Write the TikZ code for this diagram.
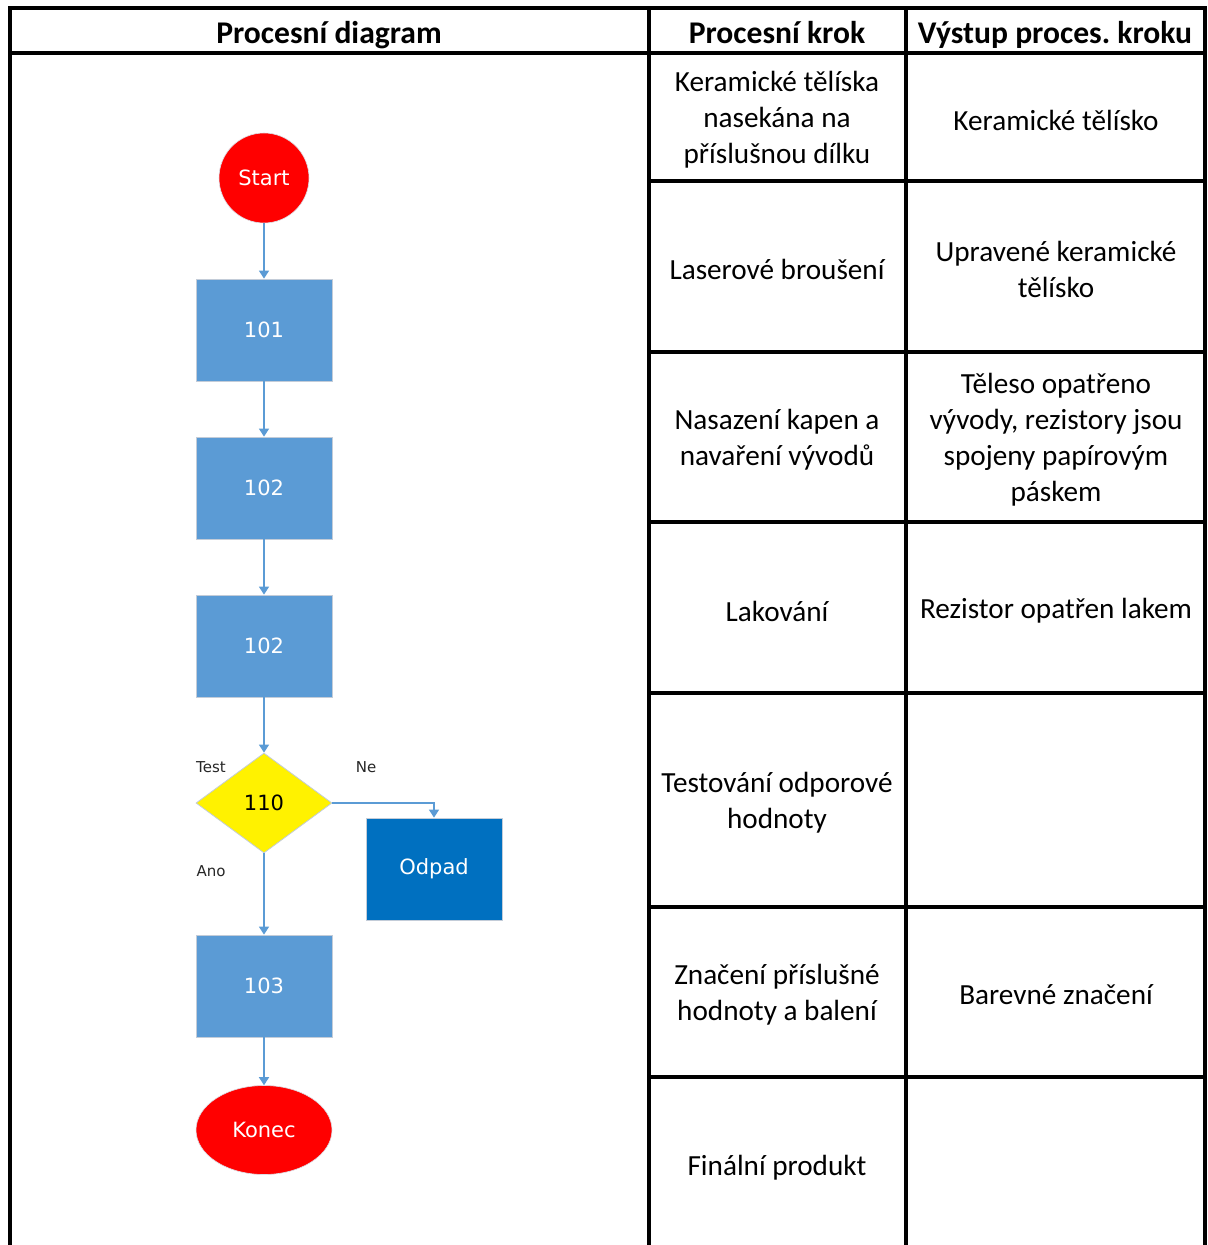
\documentclass[tikz,border=0pt]{standalone}
\usepackage{fontspec}
\setmainfont{Carlito}
\newfontfamily\chartfont{DejaVu Sans}
\usepackage{xcolor}
\usetikzlibrary{positioning,arrows.meta,shapes.geometric}
\definecolor{stepblue}{HTML}{5B9BD5}
\definecolor{wasteblue}{HTML}{0070C0}
\definecolor{rimgray}{HTML}{C3CCD8}
\frenchspacing

\begin{document}
\begin{tikzpicture}
            [
            x=0.5pt, y=-0.5pt,
            grid/.style={line width=1.6pt, line cap=rect},
            head/.style={anchor=base, font=\fontsize{15.8}{19}\selectfont\bfseries},
            cell/.style={align=center, font=\fontsize{14.6}{18}\selectfont},
            stepbox/.style={rectangle, fill=stepblue, draw=rimgray, line width=0.4pt,
                minimum width=68pt, minimum height=51pt, text=white,
                font=\chartfont\fontsize{10.5}{12}\selectfont},
            terminal/.style={fill=red, draw=rimgray!60, line width=0.3pt, text=white,
                font=\chartfont\fontsize{10.5}{12}\selectfont},
            decision/.style={diamond, fill=yellow, draw=rimgray, line width=0.4pt,
                minimum width=68pt, minimum height=50pt, inner sep=0pt,
                font=\chartfont\fontsize{10.5}{12}\selectfont},
            tag/.style={font=\chartfont\fontsize{7.5}{9}\selectfont, text=black!85},
            edge/.style={-{Triangle[length=4pt,width=5pt]}, draw=stepblue, line width=0.8pt}
            ]
        \useasboundingbox (0,0) rectangle (1207,1245);

        % table grid
        \draw[grid] (10,1250) -- (10,8) -- (1205,8) -- (1205,1250);
        \draw[grid] (649,8) -- (649,1250);
        \draw[grid] (906,8) -- (906,1250);
        \draw[grid] (10,53) -- (1205,53);
        \foreach \y in {181,352,522,693,907,1077}
            \draw[grid] (649,\y) -- (1205,\y);

        % header
        \node[head] (h1) at (329,44) {Procesní diagram};
        \node[head] (h2) at (777,44) {Procesní krok};
        \node[head] (h3) at (1055,44) {Výstup proces. kroku};

        % process steps
        \node[cell] (k1) at (777,120) {Keramické tělíska\\nasekána na\\příslušnou dílku};
        \node[cell] (k2) at (777,269) {Laserové broušení};
        \node[cell] (k3) at (777,440) {Nasazení kapen a\\navaření vývodů};
        \node[cell] (k4) at (777,611) {Lakování};
        \node[cell] (k5) at (777,803) {Testování odporové\\hodnoty};
        \node[cell] (k6) at (777,995) {Značení příslušné\\hodnoty a balení};
        \node[cell] (k7) at (777,1168) {Finální produkt};

        % step outputs
        \node[cell] (v1) at (1056,120) {Keramické tělísko};
        \node[cell] (v2) at (1056,269) {Upravené keramické\\tělísko};
        \node[cell] (v3) at (1056,440) {Těleso opatřeno\\vývody, rezistory jsou\\spojeny papírovým\\páskem};
        \node[cell] (v4) at (1056,611) {Rezistor opatřen lakem};
        \node[cell] (v6) at (1056,995) {Barevné značení};

        % flowchart
        \node[terminal, circle, minimum size=45pt, inner sep=0pt] (start) at (264,178) {Start};
        \node[stepbox] (s101) at (264,330) {101};
        \node[stepbox] (s102a) at (264,488) {102};
        \node[stepbox] (s102b) at (264,646) {102};
        \node[decision] (t110) at (264,803) {110};
        \node[stepbox, fill=wasteblue] (odpad) at (434,869) {Odpad};
        \node[stepbox] (s103) at (264,986) {103};
        \node[terminal, ellipse, minimum width=68pt, minimum height=44.5pt, inner sep=0pt] (konec) at (264,1130) {Konec};

        \node[tag] (ltest) at (211,767) {Test};
        \node[tag] (lne) at (366,767) {Ne};
        \node[tag] (lano) at (211,871) {Ano};

        \draw[edge] (start) -- (s101);
        \draw[edge] (s101) -- (s102a);
        \draw[edge] (s102a) -- (s102b);
        \draw[edge] (s102b) -- (t110);
        \draw[edge] (t110) -- (s103);
        \draw[edge] (t110.east) -| (odpad.north);
        \draw[edge] (s103) -- (konec);
        \end{tikzpicture}
\end{document}
